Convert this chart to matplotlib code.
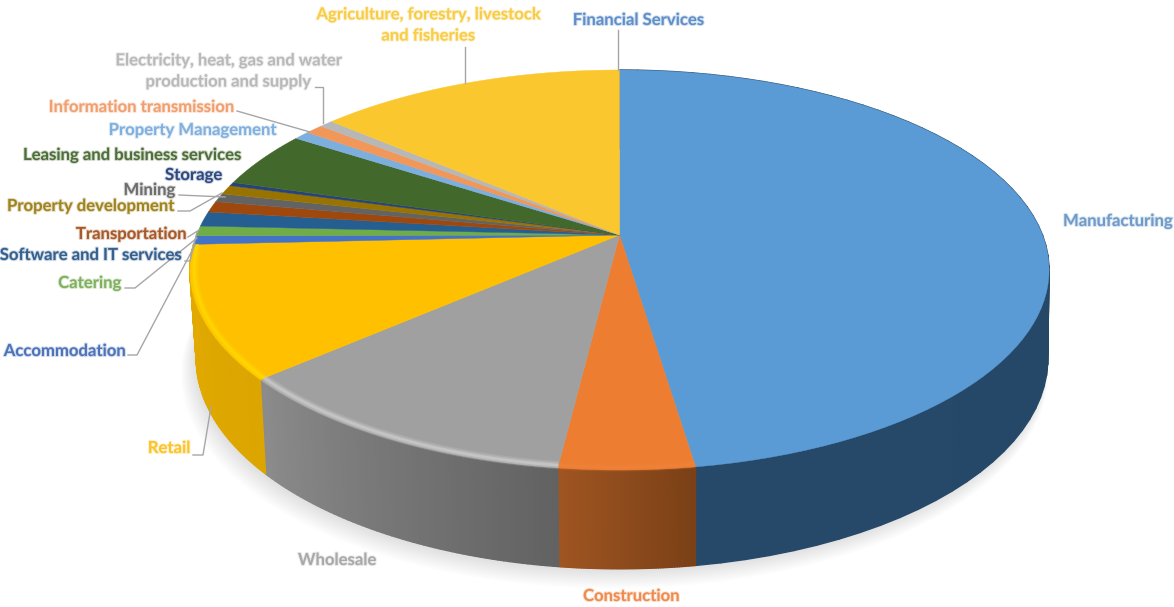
import numpy as np
import matplotlib
matplotlib.use("Agg")
import matplotlib.pyplot as plt
import matplotlib.patheffects as pe
from matplotlib.colors import to_rgb

plt.rcParams["font.family"] = ["Lato", "DejaVu Sans"]

# shares in percent, clockwise from 12 o'clock
sectors = ["Manufacturing", "Construction", "Wholesale", "Retail", "Accommodation",
           "Catering", "Software and IT services", "Transportation", "Mining",
           "Property development", "Storage", "Leasing and business services",
           "Property Management", "Information transmission",
           "Electricity, heat, gas and water\nproduction and supply",
           "Agriculture, forestry, livestock\nand fisheries", "Financial Services"]
shares = [47.6, 4.3, 11.6, 10.7, 0.7, 0.8, 1.2, 0.9, 0.7, 0.75, 0.3, 4.6, 0.7, 0.8, 0.6, 13.7, 0.0]

colors = ["#5b9bd5", "#ed7d31", "#a0a0a0", "#ffc000", "#4472c4", "#70ad47", "#255e91",
          "#9e480e", "#636363", "#997300", "#264478", "#43682b", "#7cafdd", "#f1975a",
          "#b7b7b7", "#fac82e", "#5b9bd5"]
text_colors = ["#6f9bc8", "#ee8b4f", "#a9a9a9", "#fbc42a", "#4d73b8", "#80b060", "#35608f",
               "#a65a2a", "#6e6e6e", "#a08420", "#2f4a80", "#4f6f3a", "#82b0dc", "#f0a070",
               "#b9b9b9", "#f9cc45", "#5f8fc8"]

# label anchor (x, y, ha) in pixels
label_pos = [(1063, 221, "left"), (631, 596, "center"), (337, 560, "center"), (190, 448, "right"),
             (125, 351, "right"), (121, 283, "right"), (181, 255, "right"), (186, 234, "right"),
             (175, 190, "right"), (174, 206, "right"), (222, 175, "right"), (240, 155, "right"),
             (276, 130, "right"), (233, 107, "right"), (228, 71, "center"), (428, 25, "center"),
             (638, 20, "center")]
leaders = [None, None, None,
           [(193, 455), (203, 455), (211, 407)],
           [(128, 355), (137, 355), (195, 245)],
           [(125, 288), (135, 288), (197, 238)],
           [(185, 261), (190, 261), (197, 232)],
           [(188, 237), (199, 230)],
           [(179, 195), (225, 197)],
           [(178, 211), (190, 211), (222, 193)],
           None, None, None,
           [(237, 111), (310, 132)],
           [(315, 87), (323, 87), (323, 123)],
           [(465, 47), (465, 83)],
           [(618, 30), (618, 70)]]

# side wall colours, left and right end of each front slice
side_left = {"Manufacturing": "#26496a", "Construction": "#a05522", "Wholesale": "#8c8c8c", "Retail": "#e3ab00"}
side_right = {"Manufacturing": "#254663", "Construction": "#7a4016", "Wholesale": "#626262", "Retail": "#dca500"}
rim = {"Construction": "#f0843a", "Wholesale": "#cfcfcf", "Retail": "#ffdc00"}

cx, cy = 619.5, 235
a, b, k = 193.9, 423.0, 0.175
depth, y_scale = 87, 1.05


def top_xy(theta, r=1.0):
    # theta clockwise from the back of the pie, perspective on the depth axis
    px = r * np.sin(theta)
    py = r * np.cos(theta)
    w = 1 + k * py
    return cx + b * px / w, cy - a * py / w


def bottom_xy(theta, r=1.0):
    x, y = top_xy(theta, r)
    # base is a bit narrower than the top, more so on the left
    x_scale = np.where(x > cx, 0.997, 0.985)
    return cx + x_scale * (x - cx), cy + y_scale * (y - cy) + depth


fig = plt.figure(figsize=(11.74, 6.07), dpi=100)
ax = fig.add_axes([0, 0, 1, 1])
ax.set_xlim(0, 1174)
ax.set_ylim(607, 0)
ax.axis("off")

vals = np.array(shares) / sum(shares) * 2 * np.pi
edges = np.concatenate([[0], np.cumsum(vals)])

# soft shadow under the pie, mostly towards lower left
ring = np.linspace(0, 2 * np.pi, 240)
for i in range(12):
    sx, sy = bottom_xy(ring, 0.995 + 0.002 * i)
    ax.fill(sx - 1 - 0.6 * i, sy + 1.3 * i, color="#555555", alpha=0.014, lw=0, zorder=1)

# side wall, thin strips for the gradient
for i, name in enumerate(sectors):
    if name not in side_left:
        continue
    t = np.linspace(edges[i], edges[i + 1], 60)
    c0, c1 = np.array(to_rgb(side_left[name])), np.array(to_rgb(side_right[name]))
    for j in range(len(t) - 1):
        # angles run clockwise, so the left end of the wall is at the far angle
        f = (t[j] - t[0]) / (t[-1] - t[0])
        col = c1 * (1 - f) + c0 * f
        tt = t[j:j + 2]
        x1, y1 = top_xy(tt)
        x2, y2 = bottom_xy(tt)
        ax.fill(np.r_[x1, x2[::-1]], np.r_[y1, y2[::-1]], fc=col, ec=col, lw=1.0, zorder=2)

# top face
for i, name in enumerate(sectors):
    if vals[i] == 0:
        continue
    t = np.linspace(edges[i], edges[i + 1], 80)
    x, y = top_xy(t)
    ax.fill(np.r_[cx, x], np.r_[cy, y], color=colors[i], lw=0.3, zorder=3)

# bevel highlight along the front edge
for i, name in enumerate(sectors):
    if name in rim:
        t = np.linspace(edges[i], edges[i + 1], 80)
        x, y = top_xy(t, 0.99)
        for lw, alpha in [(6, 0.2), (4, 0.3), (2, 0.6)]:
            ax.plot(x, y, color=rim[name], lw=lw, alpha=alpha, solid_capstyle="butt", zorder=4)

# labels and leader lines
for i, name in enumerate(sectors):
    x, y, ha = label_pos[i]
    txt = ax.text(x, y, name, color=text_colors[i], ha=ha, va="center", fontsize=12,
                  fontweight="bold", linespacing=1.4, zorder=6)
    txt.set_path_effects([pe.withStroke(linewidth=1.5, foreground=text_colors[i], alpha=0.25)])
    if leaders[i] is not None:
        pts = np.array(leaders[i])
        ax.plot(pts[:, 0], pts[:, 1], color="#a6a6a6", lw=1, zorder=5)

fig.savefig("out.png", dpi=100)
